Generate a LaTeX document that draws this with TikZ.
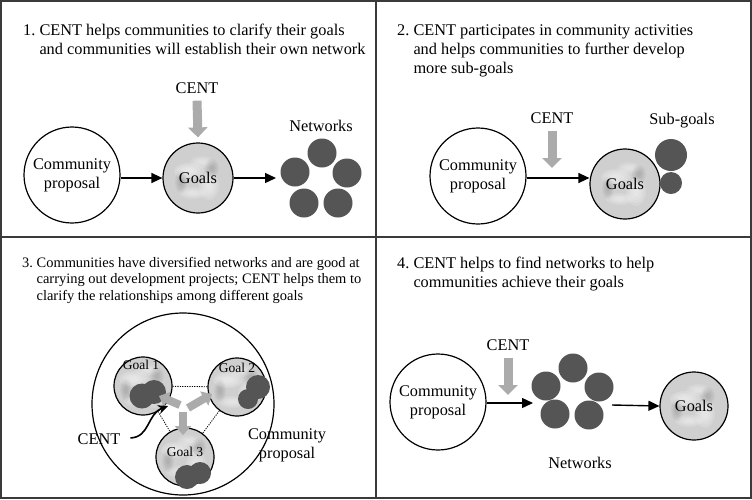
\documentclass[tikz,border=0pt]{standalone}
\usepackage{fontspec}
\setmainfont{Liberation Serif}
\usetikzlibrary{arrows.meta,calc}
\definecolor{netgray}{HTML}{555555}
\definecolor{centgray}{HTML}{ABABAB}
\definecolor{framegray}{HTML}{3A3A3A}
\definecolor{marblebase}{HTML}{CFCFCF}
\newcommand\softblob[5]{%
  \foreach \s in {1,0.78,0.56,0.34}{%
    \fill[#5] ([shift={(#1,#2)}]path picture bounding box.center) ellipse ({#3*\s} and {#4*\s});}}
\tikzset{
  ttl/.style={anchor=base west, inner sep=0pt, font=\fontsize{16.3}{19}\selectfont},
  ttlsmall/.style={anchor=base west, inner sep=0pt, font=\fontsize{14.45}{16.6}\selectfont},
  lbl/.style={inner sep=0pt, font=\fontsize{16.3}{19}\selectfont, align=center},
  lblsmall/.style={inner sep=0pt, font=\fontsize{13.5}{16}\selectfont},
  prop/.style={circle, draw, line width=1.2pt, fill=white, minimum size=96pt, inner sep=0pt,
    align=center, font=\fontsize{16.3}{19}\selectfont},
  marble/.style={circle, draw, line width=1.2pt, fill=marblebase, inner sep=0pt,
    font=\fontsize{16.3}{19}\selectfont,
    path picture={
      \softblob{-9pt}{7pt}{15pt}{8pt}{white, opacity=0.17}
      \softblob{11pt}{-8pt}{10pt}{14pt}{white, opacity=0.15}
      \softblob{-5pt}{-15pt}{14pt}{6pt}{white, opacity=0.14}
      \softblob{4pt}{16pt}{12pt}{6pt}{white, opacity=0.12}
      \softblob{14pt}{10pt}{7pt}{9pt}{black, opacity=0.035}
      \softblob{-17pt}{-4pt}{6pt}{11pt}{black, opacity=0.035}
    }},
  net/.style={circle, fill=netgray, minimum size=29pt, inner sep=0pt},
  dot/.style={circle, fill=netgray, inner sep=0pt},
  conn/.style={-{Triangle[width=10pt,length=11pt]}, line width=1.4pt},
  centarrow/.style={-{Triangle[width=19pt,length=10pt]}, line width=9pt, draw=centgray},
  centarrowsmall/.style={-{Triangle[width=16pt,length=9pt]}, line width=8pt, draw=centgray},
  link/.style={line width=0.8pt, dash pattern=on 1.2pt off 1.2pt},
}
\begin{document}
\begin{tikzpicture}[x=1pt, y=-1pt]
\useasboundingbox (0,0) rectangle (752,499);
\fill[white] (0,0) rectangle (752,499);

% ---------- Panel 1 ----------
\node[ttl] (t1) at (23,35) {\begin{tabular}[t]{@{}l@{\ }l@{}}1.& CENT helps communities to clarify their goals\\ & and communities will establish their own network\end{tabular}};
\node[prop] (cp1) at (72,175) {Community\\proposal};
\node[marble, minimum size=70pt] (goals1) at (198,178) {Goals};
\node[lbl] (cent1) at (197,88) {CENT};
\draw[centarrow] ([yshift=-7pt]cent1.south) -- ([yshift=5pt]goals1.north);
\node[lbl] (netlbl1) at (321,126) {Networks};
\node[net] (n11) at (322,153) {};
\node[net] (n12) at (295,172) {};
\node[net] (n13) at (347,173) {};
\node[net] (n14) at (304,203) {};
\node[net] (n15) at (338,203) {};
\coordinate (e1) at (276,178);
\draw[conn] (cp1.east |- goals1.west) -- (goals1.west);
\draw[conn] (goals1.east) -- (e1);

% ---------- Panel 2 ----------
\node[ttl] (t2) at (397,35) {\begin{tabular}[t]{@{}l@{\ }l@{}}2.& CENT participates in community activities\\ & and helps communities to further develop\\ & more sub-goals\end{tabular}};
\node[prop] (cp2) at (478,176) {Community\\proposal};
\node[marble, minimum size=70pt] (goals2) at (625,184) {Goals};
\node[lbl] (cent2) at (552,118) {CENT};
\coordinate (a2) at (552,168);
\draw[centarrow] ([yshift=-7pt]cent2.south) -- (a2);
\node[lbl] (sublbl) at (682,121) {Sub-goals};
\node[dot, minimum size=32pt] (s1) at (671,155) {};
\node[dot, minimum size=22pt] (s2) at (671,183) {};
\draw[conn] (cp2.east |- 0,178) -- (goals2.west |- 0,178);

% ---------- Panel 3 ----------
\node[ttlsmall] (t3) at (22,267) {\begin{tabular}[t]{@{}l@{\ }l@{}}3.& Communities have diversified networks and are good at\\ & carrying out development projects; CENT helps them to\\ & clarify the relationships among different goals\end{tabular}};
\node[circle, draw, line width=1.2pt, minimum size=182pt, inner sep=0pt] (cp3) at (183,404) {};
\node[marble, minimum size=58pt] (g1) at (143,386) {};
\node[marble, minimum size=58pt] (g2) at (237,387) {};
\node[marble, minimum size=58pt] (g3) at (185,457) {};
\draw[link] (g1) -- (g2);
\draw[link] (g1) -- (g3);
\draw[link] (g2) -- (g3);
\node[lblsmall] (g1t) at (141,365) {Goal 1};
\node[lblsmall] (g2t) at (237,368) {Goal 2};
\node[lblsmall] (g3t) at (185,452) {Goal 3};
\node[dot, minimum size=25pt] (d11) at (142,396) {};
\node[dot, minimum size=24pt] (d12) at (154,392) {};
\node[dot, minimum size=24pt] (d21) at (258,387) {};
\node[dot, minimum size=20pt] (d22) at (248,399) {};
\node[dot, minimum size=24pt] (d31) at (187,477) {};
\node[dot, minimum size=22pt] (d32) at (200,473) {};
\coordinate (s31) at (180,405);
\coordinate (s32) at (188,408);
\coordinate (s33) at (183,412);
\coordinate (e31) at (159,396);
\coordinate (e32) at (212,394);
\coordinate (e33) at (183,435);
\draw[centarrowsmall] (s31) -- (e31);
\draw[centarrowsmall] (s32) -- (e32);
\draw[centarrowsmall] (s33) -- (e33);
\node[lbl] (cent3) at (99,439) {CENT};
\coordinate (c3end) at (168,406);
\draw[-{Stealth[length=10pt,width=9pt]}, line width=1.6pt] ([xshift=10pt,yshift=1pt]cent3.east) .. controls (150,437) and (147,414) .. (c3end);
\node[lbl] (cp3t) at (287,445) {Community\\proposal};

% ---------- Panel 4 ----------
\node[ttl] (t4) at (397,268) {\begin{tabular}[t]{@{}l@{\ }l@{}}4.& CENT helps to find networks to help\\ & communities achieve their goals\end{tabular}};
\node[prop] (cp4) at (438,402) {Community\\proposal};
\node[lbl] (cent4) at (508,345) {CENT};
\coordinate (a4) at (508,395);
\draw[centarrow] ([yshift=-7pt]cent4.south) -- (a4);
\node[net] (n41) at (573,368) {};
\node[net] (n42) at (546,386) {};
\node[net] (n43) at (599,387) {};
\node[net] (n44) at (555,414) {};
\node[net] (n45) at (589,415) {};
\node[lbl] (netlbl4) at (580,463) {Networks};
\node[marble, minimum size=68pt] (goals4) at (694,406) {Goals};
\coordinate (e4) at (533,403);
\coordinate (s4) at (612,405);
\draw[conn] (cp4.east |- e4) -- (e4);
\draw[conn] (s4) -- (goals4.west);

% ---------- Frame ----------
\draw[framegray, line width=1.6pt] (376,0) -- (376,499);
\draw[framegray, line width=1.6pt] (0,237) -- (752,237);
\draw[framegray, line width=2pt] (1,1) rectangle (751,498);
\end{tikzpicture}
\end{document}
